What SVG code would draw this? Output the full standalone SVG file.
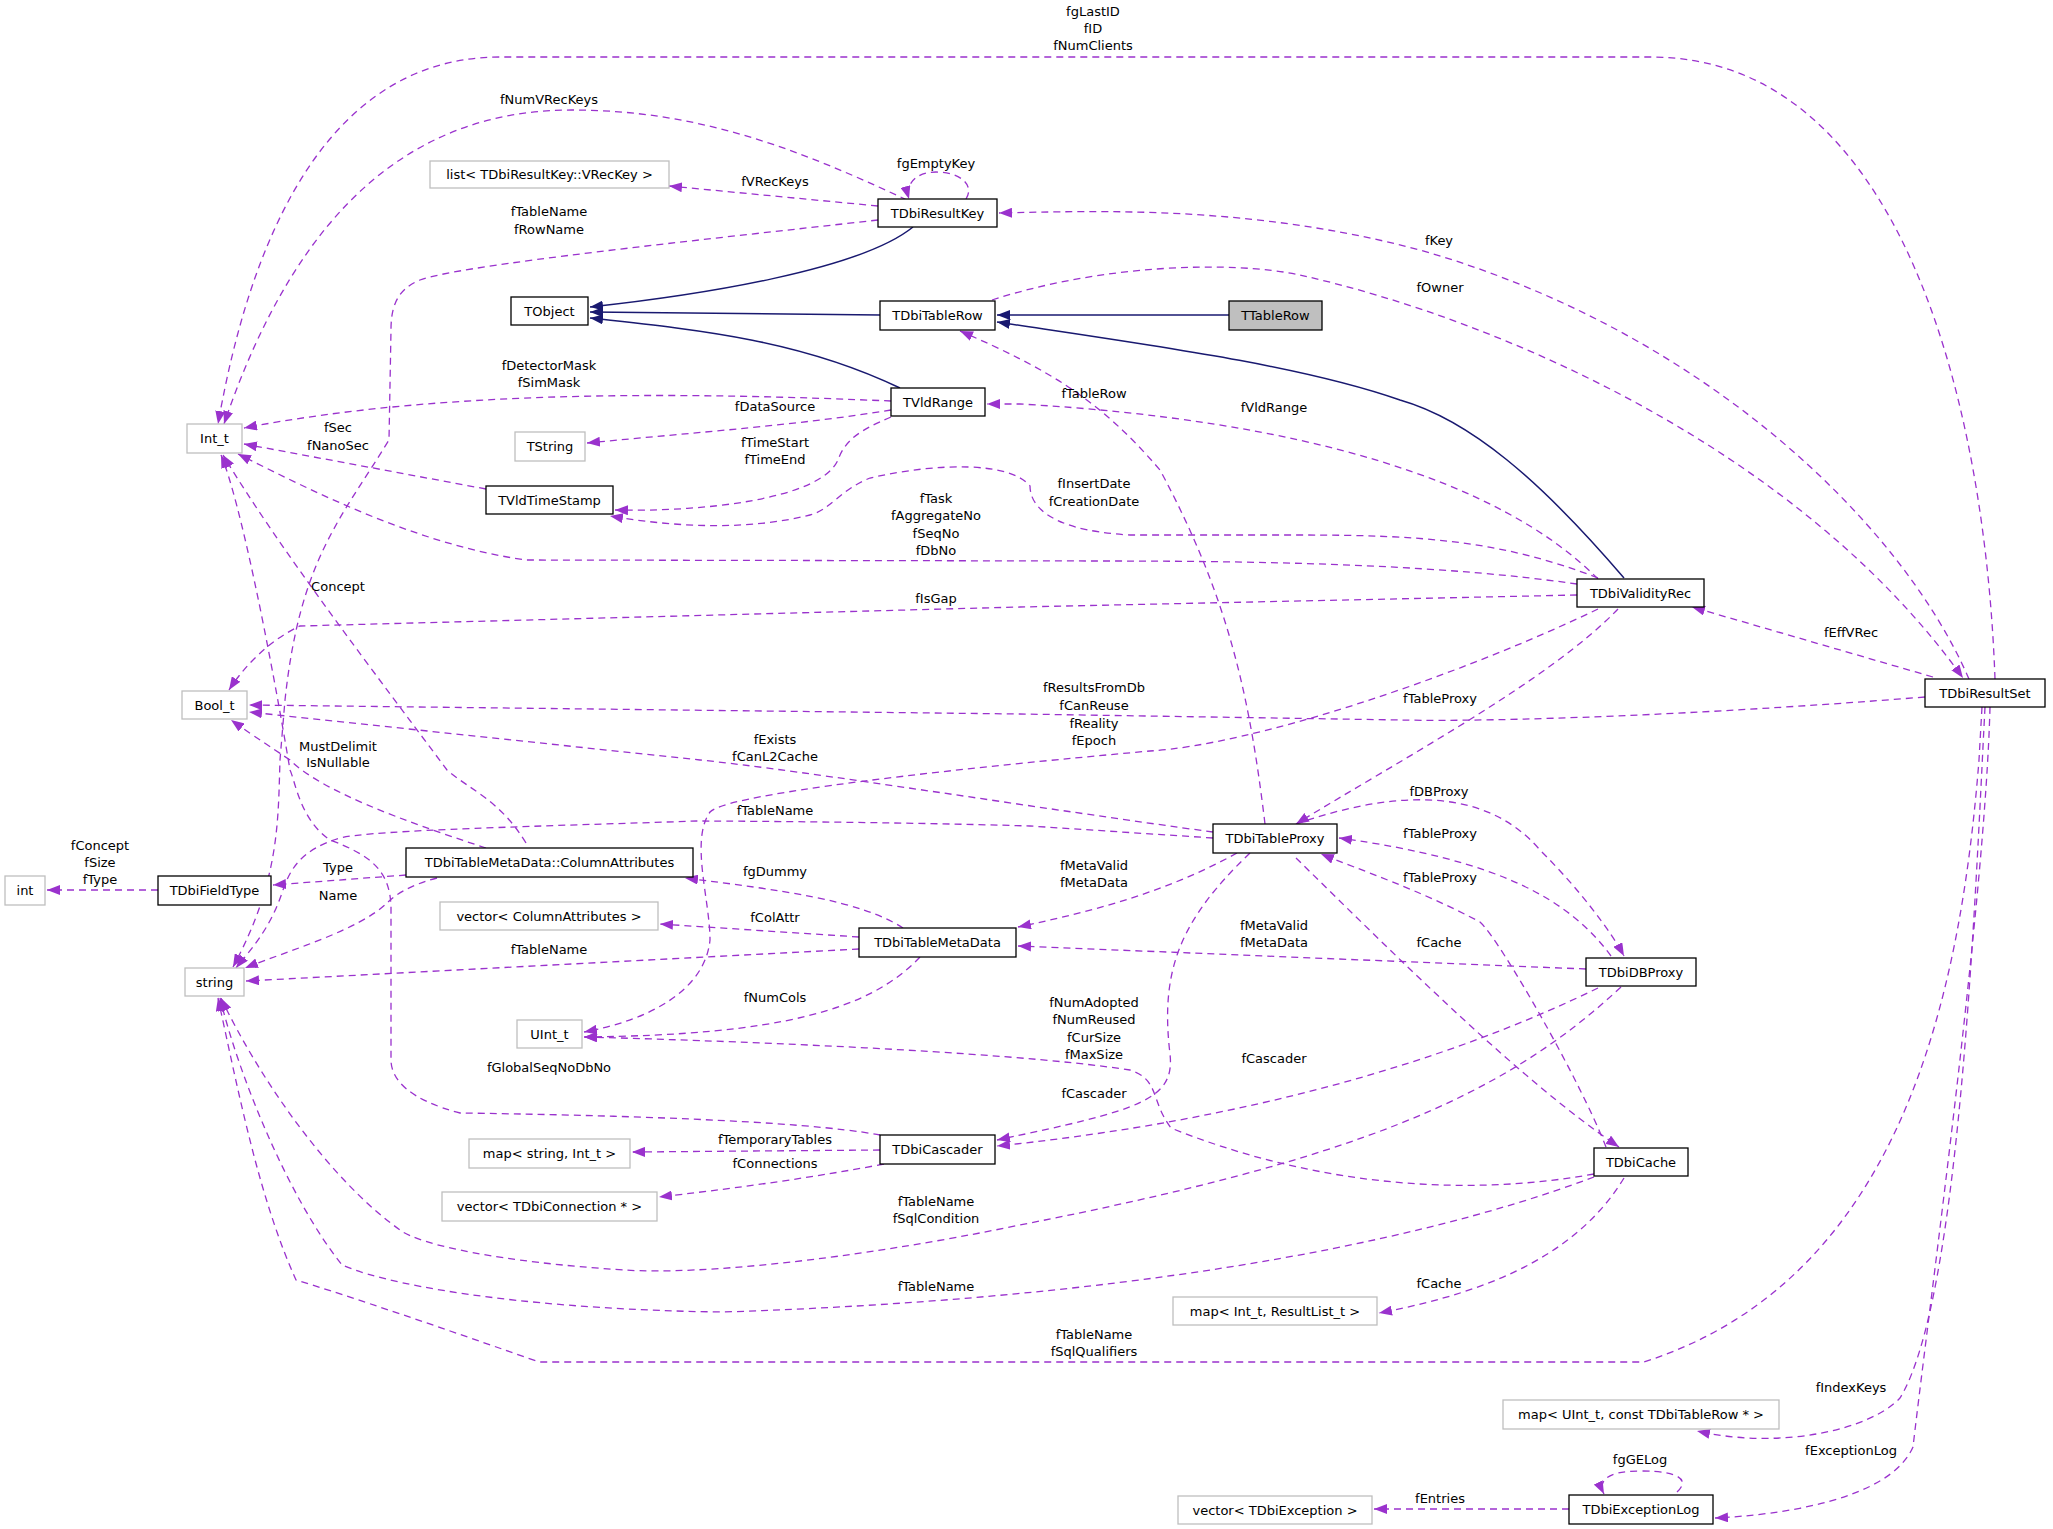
<svg xmlns="http://www.w3.org/2000/svg" width="2053" height="1529" viewBox="0 0 2053 1529">
<style>
text{font-family:"DejaVu Sans","Liberation Sans",sans-serif;font-size:13px;fill:#000}
.n rect{fill:#fff;stroke:#000;stroke-width:1.3}
.g rect{fill:#fff;stroke:#bfbfbf;stroke-width:1.3}
.t{text-anchor:middle}
.e path{fill:none;stroke:#9a32cd;stroke-width:1.3;stroke-dasharray:7,5;marker-end:url(#pa)}
.i path{fill:none;stroke:#191970;stroke-width:1.5;marker-end:url(#na)}
.l text{text-anchor:middle}
</style>
<defs>
<marker id="pa" markerWidth="14" markerHeight="10" refX="13" refY="5" orient="auto" markerUnits="userSpaceOnUse"><path d="M0,0 L13,5 L0,10 Z" fill="#9a32cd"/></marker>
<marker id="na" markerWidth="14" markerHeight="10" refX="13" refY="5" orient="auto" markerUnits="userSpaceOnUse"><path d="M0,0 L13,5 L0,10 Z" fill="#191970"/></marker>
</defs>
<rect width="2053" height="1529" fill="#fff"/>
<g id="connectors">
<g class="i">
<path d="M913,227 C860,270 700,295 590,307"/>
<path d="M880,315 L590,312"/>
<path d="M900,388 C800,340 700,330 590,318"/>
<path d="M1229,315 L997,315"/>
<path d="M1624,578 C1540,480 1470,420 1400,400 C1300,365 1150,345 997,322"/>
</g>
<g class="e">
<path d="M1995,679 C1985,400 1900,57 1651,57 L500,57 C300,57 240,300 218,424"/>
<path d="M907,200 C800,150 700,110 572,110 C420,110 300,200 224,424"/>
<path d="M966,199 C975,185 960,172 936,172 C915,172 905,185 909,199"/>
<path d="M878,206 L669,186"/>
<path d="M878,220 C700,240 460,265 420,280 C395,290 391,310 391,330 L389,440 C340,520 300,560 285,700 L280,760 C278,820 280,880 233,967"/>
<path d="M1969,679 C1900,520 1700,330 1420,250 C1250,205 1100,211 999,213"/>
<path d="M992,300 C1100,265 1230,260 1300,275 C1500,320 1800,450 1963,678"/>
<path d="M1598,579 C1500,480 1300,420 1020,404 L987,404"/>
<path d="M1265,824 C1250,700 1230,600 1160,470 C1100,400 1050,370 960,331"/>
<path d="M891,401 C700,393 450,388 244,428"/>
<path d="M891,410 C800,425 700,432 587,443"/>
<path d="M891,417 C860,430 845,440 838,460 C820,500 700,512 615,510"/>
<path d="M486,489 L244,444"/>
<path d="M1598,578 C1500,540 1420,535 1300,535 L1130,535 C1040,530 1030,500 1030,486 C1010,462 940,462 870,478 C840,490 830,510 810,515 C750,530 680,528 610,516"/>
<path d="M1577,584 C1450,566 1300,561 1100,561 L526,560 C420,545 320,495 238,454"/>
<path d="M1577,595 L1020,607 L300,626 C270,640 245,665 229,690"/>
<path d="M1925,697 C1700,715 1500,722 1400,720 L1020,714 L249,705"/>
<path d="M1598,609 C1450,680 1250,745 1150,751 C1050,760 730,790 710,812 C690,840 710,900 710,940 C705,990 650,1020 584,1032"/>
<path d="M1213,832 C1050,810 800,770 700,760 L249,712"/>
<path d="M1618,609 C1550,680 1400,760 1296,824"/>
<path d="M526,843 C500,800 470,790 447,770 C380,680 280,550 223,455"/>
<path d="M486,848 C400,820 320,790 290,760 C260,740 245,730 231,720"/>
<path d="M406,875 L273,885"/>
<path d="M437,878 C410,885 395,895 388,902 C360,930 290,950 245,968"/>
<path d="M158,890 L47,890"/>
<path d="M1213,838 L1030,826 C900,822 720,821 697,821 C550,826 370,830 340,838 C300,850 290,870 283,890 C270,930 250,950 236,968"/>
<path d="M903,928 C860,900 780,890 685,878"/>
<path d="M859,937 L660,924"/>
<path d="M859,949 L246,981"/>
<path d="M920,957 C870,1010 780,1035 584,1037"/>
<path d="M1237,853 C1170,890 1100,910 1018,927"/>
<path d="M1586,969 L1018,946"/>
<path d="M1296,824 C1380,795 1480,780 1540,850 C1580,890 1610,930 1624,956"/>
<path d="M1611,956 C1570,900 1500,860 1339,838"/>
<path d="M1606,1147 C1580,1080 1500,940 1480,922 C1420,890 1360,870 1321,854"/>
<path d="M1296,858 C1400,960 1520,1080 1619,1147"/>
<path d="M1250,853 C1180,920 1160,970 1170,1054 C1175,1100 1140,1110 997,1140"/>
<path d="M1598,988 C1450,1060 1250,1120 997,1146"/>
<path d="M1594,1174 C1450,1200 1300,1180 1171,1128 C1150,1100 1160,1080 1130,1070 C1000,1050 700,1040 584,1037"/>
<path d="M880,1135 C800,1120 600,1115 460,1113 C410,1100 391,1080 391,1060 L391,907 C390,870 370,855 330,840 C300,820 295,780 290,770 C270,650 240,500 221,455"/>
<path d="M880,1150 L632,1152"/>
<path d="M884,1164 C800,1180 720,1190 659,1197"/>
<path d="M1621,987 C1500,1100 1350,1160 1020,1225 C850,1260 700,1275 624,1270 C500,1262 420,1245 400,1230 C330,1180 260,1080 221,998"/>
<path d="M1594,1177 C1400,1250 1100,1300 723,1312 C550,1310 400,1290 342,1265 C290,1200 240,1080 220,998"/>
<path d="M1982,707 L1979,760 C1960,1000 1900,1280 1644,1362 L539,1362 C420,1320 330,1290 296,1280 C260,1200 240,1100 218,998"/>
<path d="M1624,1178 C1580,1250 1500,1290 1379,1313"/>
<path d="M1985,707 C1975,900 1960,1300 1900,1398 C1870,1430 1780,1450 1697,1431"/>
<path d="M1990,707 C1985,900 1930,1300 1913,1447 C1890,1500 1780,1515 1715,1518"/>
<path d="M1677,1492 C1690,1480 1680,1471 1640,1471 C1605,1471 1598,1482 1604,1494"/>
<path d="M1569,1509 L1374,1509"/>
<path d="M1933,677 L1692,607"/>
</g>
<g class="l">
<text x="1093" y="16">fgLastID</text><text x="1093" y="33">fID</text><text x="1093" y="50">fNumClients</text>
<text x="549" y="104">fNumVRecKeys</text>
<text x="936" y="168">fgEmptyKey</text>
<text x="775" y="186">fVRecKeys</text>
<text x="549" y="216">fTableName</text><text x="549" y="234">fRowName</text>
<text x="1439" y="245">fKey</text>
<text x="1440" y="292">fOwner</text>
<text x="1094" y="398">fTableRow</text>
<text x="1274" y="412">fVldRange</text>
<text x="549" y="370">fDetectorMask</text><text x="549" y="387">fSimMask</text>
<text x="775" y="411">fDataSource</text>
<text x="338" y="432">fSec</text><text x="338" y="450">fNanoSec</text>
<text x="775" y="447">fTimeStart</text><text x="775" y="464">fTimeEnd</text>
<text x="1094" y="488">fInsertDate</text><text x="1094" y="506">fCreationDate</text>
<text x="936" y="503">fTask</text><text x="936" y="520">fAggregateNo</text><text x="936" y="538">fSeqNo</text><text x="936" y="555">fDbNo</text>
<text x="338" y="591">Concept</text>
<text x="936" y="603">fIsGap</text>
<text x="1851" y="637">fEffVRec</text>
<text x="1094" y="692">fResultsFromDb</text><text x="1094" y="710">fCanReuse</text>
<text x="1440" y="703">fTableProxy</text>
<text x="1094" y="728">fReality</text><text x="1094" y="745">fEpoch</text>
<text x="775" y="744">fExists</text><text x="775" y="761">fCanL2Cache</text>
<text x="338" y="751">MustDelimit</text><text x="338" y="767">IsNullable</text>
<text x="1439" y="796">fDBProxy</text>
<text x="775" y="815">fTableName</text>
<text x="1440" y="838">fTableProxy</text>
<text x="100" y="850">fConcept</text><text x="100" y="867">fSize</text><text x="100" y="884">fType</text>
<text x="338" y="872">Type</text>
<text x="1094" y="870">fMetaValid</text><text x="1094" y="887">fMetaData</text>
<text x="775" y="876">fgDummy</text>
<text x="1440" y="882">fTableProxy</text>
<text x="338" y="900">Name</text>
<text x="775" y="922">fColAttr</text>
<text x="1274" y="930">fMetaValid</text><text x="1274" y="947">fMetaData</text>
<text x="1439" y="947">fCache</text>
<text x="549" y="954">fTableName</text>
<text x="775" y="1002">fNumCols</text>
<text x="1094" y="1007">fNumAdopted</text><text x="1094" y="1024">fNumReused</text><text x="1094" y="1042">fCurSize</text><text x="1094" y="1059">fMaxSize</text>
<text x="1274" y="1063">fCascader</text>
<text x="549" y="1072">fGlobalSeqNoDbNo</text>
<text x="1094" y="1098">fCascader</text>
<text x="775" y="1144">fTemporaryTables</text>
<text x="775" y="1168">fConnections</text>
<text x="936" y="1206">fTableName</text><text x="936" y="1223">fSqlCondition</text>
<text x="1439" y="1288">fCache</text>
<text x="936" y="1291">fTableName</text>
<text x="1094" y="1339">fTableName</text><text x="1094" y="1356">fSqlQualifiers</text>
<text x="1851" y="1392">fIndexKeys</text>
<text x="1851" y="1455">fExceptionLog</text>
<text x="1640" y="1464">fgGELog</text>
<text x="1440" y="1503">fEntries</text>
</g>
</g>
<g id="TDbiResultKey" class="n"><rect x="878" y="199" width="119" height="28"/><text class="t" x="937.5" y="218">TDbiResultKey</text></g>
<g id="list_VRecKey" class="g"><rect x="430" y="161" width="239" height="27"/><text class="t" x="549.5" y="179">list&lt; TDbiResultKey::VRecKey &gt;</text></g>
<g id="TObject" class="n"><rect x="511" y="297" width="77" height="28"/><text class="t" x="549.5" y="316">TObject</text></g>
<g id="TDbiTableRow" class="n"><rect x="880" y="301" width="115" height="29"/><text class="t" x="937.5" y="320">TDbiTableRow</text></g>
<g id="TTableRow"><rect x="1229" y="301" width="93" height="29" fill="#bfbfbf" stroke="#000" stroke-width="1.3"/><text class="t" x="1275.5" y="320">TTableRow</text></g>
<g id="TVldRange" class="n"><rect x="891" y="388" width="94" height="28"/><text class="t" x="938" y="407">TVldRange</text></g>
<g id="Int_t" class="g"><rect x="187" y="424" width="55" height="29"/><text class="t" x="214.5" y="443">Int_t</text></g>
<g id="TString" class="g"><rect x="515" y="432" width="70" height="29"/><text class="t" x="550" y="451">TString</text></g>
<g id="TVldTimeStamp" class="n"><rect x="486" y="486" width="127" height="28"/><text class="t" x="549.5" y="505">TVldTimeStamp</text></g>
<g id="TDbiValidityRec" class="n"><rect x="1577" y="579" width="127" height="28"/><text class="t" x="1640.5" y="598">TDbiValidityRec</text></g>
<g id="TDbiResultSet" class="n"><rect x="1925" y="679" width="120" height="28"/><text class="t" x="1985" y="698">TDbiResultSet</text></g>
<g id="Bool_t" class="g"><rect x="182" y="691" width="65" height="28"/><text class="t" x="214.5" y="710">Bool_t</text></g>
<g id="TDbiTableProxy" class="n"><rect x="1213" y="824" width="124" height="29"/><text class="t" x="1275" y="843">TDbiTableProxy</text></g>
<g id="ColumnAttributes" class="n"><rect x="406" y="848" width="287" height="29"/><text class="t" x="549.5" y="867">TDbiTableMetaData::ColumnAttributes</text></g>
<g id="int" class="g"><rect x="5" y="876" width="40" height="29"/><text class="t" x="25" y="895">int</text></g>
<g id="TDbiFieldType" class="n"><rect x="158" y="876" width="113" height="29"/><text class="t" x="214.5" y="895">TDbiFieldType</text></g>
<g id="vector_ColumnAttributes" class="g"><rect x="440" y="902" width="218" height="28"/><text class="t" x="549" y="921">vector&lt; ColumnAttributes &gt;</text></g>
<g id="TDbiTableMetaData" class="n"><rect x="859" y="928" width="157" height="29"/><text class="t" x="937.5" y="947">TDbiTableMetaData</text></g>
<g id="TDbiDBProxy" class="n"><rect x="1586" y="958" width="110" height="28"/><text class="t" x="1641" y="977">TDbiDBProxy</text></g>
<g id="string" class="g"><rect x="185" y="968" width="59" height="28"/><text class="t" x="214.5" y="987">string</text></g>
<g id="UInt_t" class="g"><rect x="517" y="1020" width="65" height="28"/><text class="t" x="549.5" y="1039">UInt_t</text></g>
<g id="TDbiCascader" class="n"><rect x="880" y="1135" width="115" height="29"/><text class="t" x="937.5" y="1154">TDbiCascader</text></g>
<g id="map_string_Int_t" class="g"><rect x="469" y="1139" width="161" height="29"/><text class="t" x="549.5" y="1158">map&lt; string, Int_t &gt;</text></g>
<g id="TDbiCache" class="n"><rect x="1594" y="1148" width="94" height="28"/><text class="t" x="1641" y="1167">TDbiCache</text></g>
<g id="vector_TDbiConnection" class="g"><rect x="442" y="1192" width="215" height="29"/><text class="t" x="549.5" y="1211">vector&lt; TDbiConnection * &gt;</text></g>
<g id="map_Int_t_ResultList_t" class="g"><rect x="1173" y="1297" width="204" height="28"/><text class="t" x="1275" y="1316">map&lt; Int_t, ResultList_t &gt;</text></g>
<g id="map_UInt_t_TDbiTableRow" class="g"><rect x="1503" y="1400" width="276" height="29"/><text class="t" x="1641" y="1419">map&lt; UInt_t, const TDbiTableRow * &gt;</text></g>
<g id="vector_TDbiException" class="g"><rect x="1178" y="1496" width="194" height="28"/><text class="t" x="1275" y="1515">vector&lt; TDbiException &gt;</text></g>
<g id="TDbiExceptionLog" class="n"><rect x="1569" y="1495" width="144" height="29"/><text class="t" x="1641" y="1514">TDbiExceptionLog</text></g>
</svg>
